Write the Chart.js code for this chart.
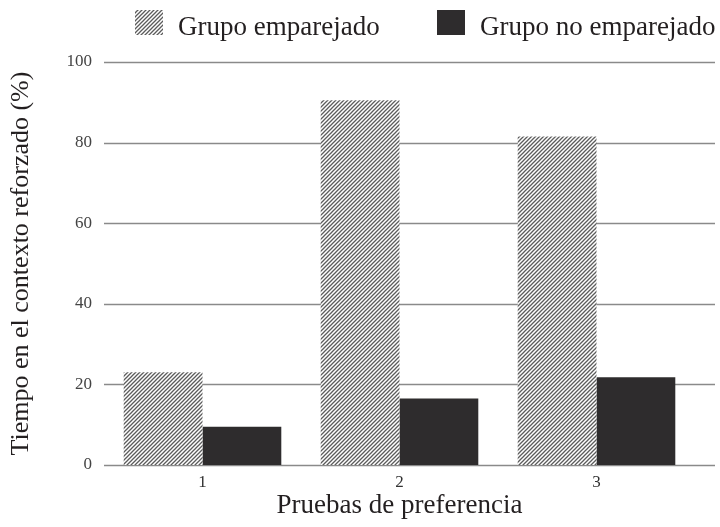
<!DOCTYPE html>
<html>
<head>
<meta charset="utf-8">
<script src="https://cdn.jsdelivr.net/npm/chart.js@4"></script>
<style>
  html, body { margin: 0; padding: 0; background: #fff; }
  #wrap { width: 720px; height: 527px; }
</style>
</head>
<body>
<div id="wrap"><canvas id="myChart"></canvas></div>
<script>
const pruebas = ['1', '2', '3'];
const emparejado = [23, 90.5, 81.5];
const noEmparejado = [9.5, 16.5, 21.8];
const yTicks = [0, 20, 40, 60, 80, 100];
const serif = 'Liberation Serif';

// diagonal hatch for the matched group
function hatch() {
  const c = document.createElement('canvas');
  c.width = 4; c.height = 4;
  const g = c.getContext('2d');
  g.fillStyle = '#fff';
  g.fillRect(0, 0, 4, 4);
  g.strokeStyle = '#5c5c5c';
  g.lineWidth = 1.3;
  g.beginPath();
  g.moveTo(-1, 5); g.lineTo(5, -1);
  g.moveTo(-1, 1); g.lineTo(1, -1);
  g.moveTo(3, 5); g.lineTo(5, 3);
  g.stroke();
  return g.createPattern(c, 'repeat');
}

// horizontal rules behind the bars, running to the right edge
const rules = {
  id: 'rules',
  beforeDatasetsDraw(chart) {
    const ctx = chart.ctx, y = chart.scales.y;
    ctx.save();
    ctx.strokeStyle = '#8a8a8a';
    ctx.lineWidth = 1.5;
    yTicks.forEach(v => {
      const py = Math.round(y.getPixelForValue(v)) + 0.5;
      ctx.beginPath();
      ctx.moveTo(chart.chartArea.left, py);
      ctx.lineTo(chart.width - 5, py);
      ctx.stroke();
    });
    ctx.restore();
  }
};

// legend row at the top (box + label per dataset)
const topLegend = {
  id: 'topLegend',
  afterDraw(chart) {
    const ctx = chart.ctx;
    const xs = [135, 437];
    ctx.save();
    ctx.font = '27px "' + serif + '"';
    ctx.textBaseline = 'middle';
    chart.data.datasets.forEach((ds, i) => {
      ctx.fillStyle = ds.backgroundColor;
      ctx.fillRect(xs[i], 10, 28, 25);
      ctx.fillStyle = '#231f20';
      ctx.fillText(ds.label, xs[i] + 43, 28);
    });
    ctx.restore();
  }
};

const ctx = document.getElementById('myChart');
new Chart(ctx, {
  type: 'bar',
  data: {
    labels: pruebas,
    datasets: [
      { label: 'Grupo emparejado', data: emparejado, backgroundColor: hatch(), borderWidth: 0 },
      { label: 'Grupo no emparejado', data: noEmparejado, backgroundColor: '#2e2c2d', borderWidth: 0 }
    ]
  },
  options: {
    responsive: true,
    maintainAspectRatio: false,
    animation: false,
    layout: { padding: { left: 0, right: 25, top: 62, bottom: 0 } },
    datasets: { bar: { categoryPercentage: 0.8, barPercentage: 1 } },
    plugins: {
      tooltip: { enabled: false },
      legend: { display: false }
    },
    scales: {
      x: {
        afterFit: s => { s.height = 62; },
        grid: { display: false, drawTicks: false },
        border: { display: false },
        ticks: { color: '#333', padding: 7, font: { family: serif, size: 17 } },
        title: { display: true, text: 'Pruebas de preferencia', color: '#231f20', padding: { top: 0, bottom: 5 },
                 font: { family: serif, size: 27 } }
      },
      y: {
        min: 0, max: 100,
        afterFit: s => { s.width = 104; },
        afterBuildTicks: s => { s.ticks = yTicks.map(v => ({ value: v })); },
        grid: { display: false, drawTicks: false },
        border: { display: false },
        ticks: { color: '#444', padding: 12, font: { family: serif, size: 17 } },
        title: { display: true, text: 'Tiempo en el contexto reforzado (%)', color: '#231f20', padding: { top: 6, bottom: 0 },
                 font: { family: serif, size: 26 } }
      }
    }
  },
  plugins: [rules, topLegend]
});
</script>
</body>
</html>
